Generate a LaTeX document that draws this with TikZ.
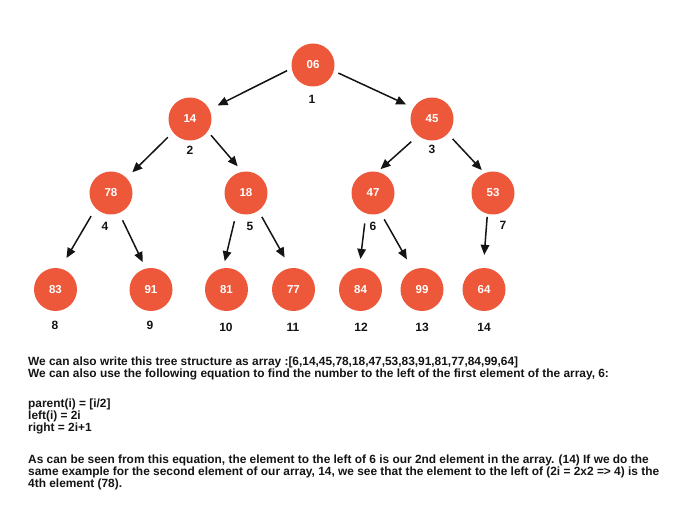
\documentclass[tikz,border=0pt]{standalone}
\usepackage{fontspec}
\setmainfont{Liberation Sans}
\usepackage{tikz}
\usetikzlibrary{arrows.meta}
\definecolor{heapRed}{RGB}{238, 88, 58}
\definecolor{inkBlack}{RGB}{20, 20, 20}

\begin{document}
\begin{tikzpicture}[x=1pt,y=-1pt,
                heapnode/.style={circle,fill=heapRed,minimum size=43pt,inner sep=0pt,
                                font=\bfseries\fontsize{11.5}{13}\selectfont,text=white},
                idx/.style={font=\bfseries\fontsize{12}{14}\selectfont,text=inkBlack},
                link/.style={-{Triangle[length=10pt,width=8.5pt]},line width=1.5pt,draw=inkBlack}
            ]
                \useasboundingbox (0,0) rectangle (673,513);

                % the heap, level by level
                \node[heapnode] (n1) at (313,65) {06};
                \node[heapnode] (n2) at (190,119) {14};
                \node[heapnode] (n3) at (432,119) {45};
                \node[heapnode] (n4) at (111,193) {78};
                \node[heapnode] (n5) at (246,193) {18};
                \node[heapnode] (n6) at (373,193) {47};
                \node[heapnode] (n7) at (493,193) {53};
                \node[heapnode] (n8) at (55.5,289.5) {83};
                \node[heapnode] (n9) at (151,289.5) {91};
                \node[heapnode] (n10) at (226.5,289.5) {81};
                \node[heapnode] (n11) at (293.5,289.5) {77};
                \node[heapnode] (n12) at (360.5,289.5) {84};
                \node[heapnode] (n13) at (422,289.5) {99};
                \node[heapnode] (n14) at (484,289.5) {64};

                % array positions
                \node[idx] (i1) at (312,99) {1};
                \node[idx] (i2) at (190,150) {2};
                \node[idx] (i3) at (432,149) {3};
                \node[idx] (i4) at (105,226) {4};
                \node[idx] (i5) at (250,226) {5};
                \node[idx] (i6) at (373,226) {6};
                \node[idx] (i7) at (503,225) {7};
                \node[idx] (i8) at (55,325) {8};
                \node[idx] (i9) at (150,325) {9};
                \node[idx] (i10) at (226,327) {10};
                \node[idx] (i11) at (293,327) {11};
                \node[idx] (i12) at (361,327) {12};
                \node[idx] (i13) at (422,327) {13};
                \node[idx] (i14) at (484,327) {14};

                % parent -> child
                \draw[link,shorten <=5pt,shorten >=9pt] (n1.189) -- (n2.26);
                \draw[link,shorten <=5pt,shorten >=8pt] (n1.-16) -- (n3.149);
                \draw[link,shorten <=7pt,shorten >=8pt] (n2.218) -- (n4.44);
                \draw[link,shorten <=5pt,shorten >=7pt] (n2.-35) -- (n5.100);
                \draw[link,shorten <=9pt,shorten >=4pt] (n3.230) -- (n6.78);
                \draw[link,shorten <=7pt,shorten >=4pt] (n3.-43) -- (n7.113);
                \draw[link,shorten <=9pt,shorten >=12pt] (n4.225) -- (n8.77);
                \draw[link,shorten <=8pt,shorten >=7pt] (n4.-68) -- (n9.104);
                \draw[link,shorten <=9pt,shorten >=7pt] (n5.244) -- (n10.99);
                \draw[link,shorten <=7pt,shorten >=12pt] (n5.-55) -- (n11.98);
                \draw[link,shorten <=10pt,shorten >=9pt] (n6.251) -- (n12.93);
                \draw[link,shorten <=7pt,shorten >=12pt] (n6.-69) -- (n13.115);
                \draw[link,shorten <=3pt,shorten >=13pt] (n7.255) -- (n14.92);

                % explanation below the tree (anchored at the last line)
                \node[anchor=base west,align=left,inner sep=0pt,text=inkBlack,
                      font=\bfseries\fontsize{11.9}{12}\selectfont] (note) at (28,487) {
                    We can also write this tree structure as array :[6,14,45,78,18,47,53,83,91,81,77,84,99,64]\\
                    We can also use the following equation to find the number to the left of the first element of the array, 6:\\[18pt]
                    parent(i) = [i/2]\\
                    left(i) = 2i\\
                    right = 2i+1\\[20pt]
                    As can be seen from this equation, the element to the left of 6 is our 2nd element in the array. (14) If we do the\\
                    same example for the second element of our array, 14, we see that the element to the left of (2i = 2x2 => 4) is the\\
                    4th element (78).
                };
            \end{tikzpicture}
\end{document}
